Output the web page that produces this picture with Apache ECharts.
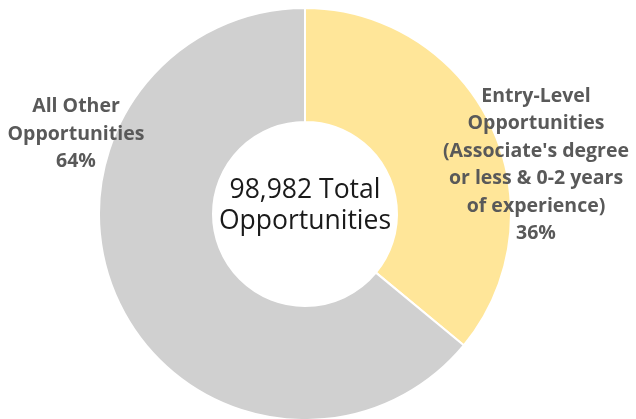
<!DOCTYPE html>
<html><head><meta charset="utf-8">
<script src="https://cdn.jsdelivr.net/npm/echarts@6/dist/echarts.min.js"></script>
<style>html,body{margin:0;padding:0;background:#fff}#c{width:636px;height:419px}</style>
</head><body><div id="c"></div>
<script>
const categories = ["Entry-Level\nOpportunities\n(Associate's degree\nor less & 0-2 years\nof experience)", "All Other\nOpportunities"];
const values = [36, 64];
const colors = ['#FFE699', '#D0D0D0'];
const centerText = '98,982 Total\nOpportunities';
const labelPos = [{x: 536, y: 165}, {x: 76, y: 134}];

const chart = echarts.init(document.getElementById('c'));
chart.setOption({
  animation: false,
  graphic: [{
    type: 'text',
    style: {text: centerText, x: 305, y: 206, align: 'center', verticalAlign: 'middle',
      font: '26.5px "Open Sans"', fill: '#1a1a1a', lineHeight: 31}
  }],
  series: [{
    type: 'pie',
    center: [305, 214],
    radius: [92, 206],
    startAngle: 90,
    clockwise: true,
    itemStyle: {borderColor: '#fff', borderWidth: 2},
    label: {
      show: true, position: 'outside',
      formatter: p => p.name + '\n' + p.value + '%',
      fontFamily: 'Open Sans', fontWeight: 'bold', fontSize: 19.5, lineHeight: 27.4,
      color: '#595959', align: 'center', overflow: 'none', width: 300
    },
    labelLine: {show: false},
    labelLayout: p => ({x: labelPos[p.dataIndex].x, y: labelPos[p.dataIndex].y, align: 'center', verticalAlign: 'middle'}),
    data: categories.map((c, i) => ({name: c, value: values[i], itemStyle: {color: colors[i]}}))
  }]
});
</script></body></html>
